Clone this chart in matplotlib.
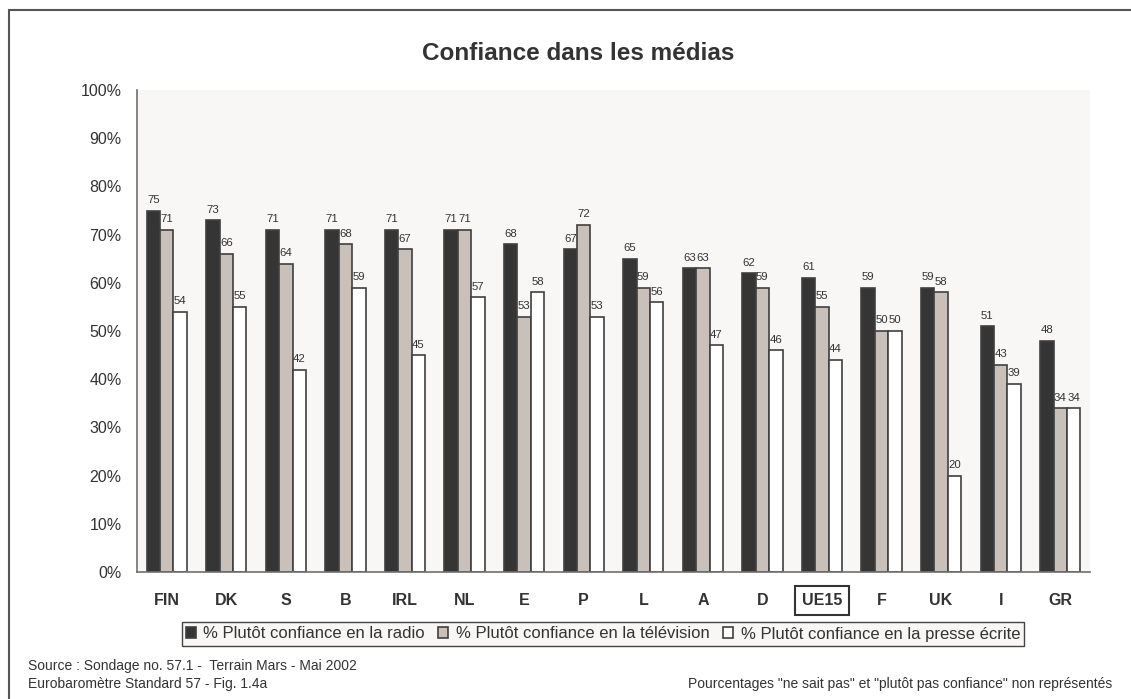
import matplotlib.pyplot as plt
import numpy as np
from matplotlib.patches import Rectangle

plt.rcParams['font.family'] = ['Liberation Sans', 'DejaVu Sans']

# donnees
pays = ['FIN', 'DK', 'S', 'B', 'IRL', 'NL', 'E', 'P', 'L', 'A', 'D', 'UE15', 'F', 'UK', 'I', 'GR']
radio = [75, 73, 71, 71, 71, 71, 68, 67, 65, 63, 62, 61, 59, 59, 51, 48]
television = [71, 66, 64, 68, 67, 71, 53, 72, 59, 63, 59, 55, 50, 58, 43, 34]
presse = [54, 55, 42, 59, 45, 57, 58, 53, 56, 47, 46, 44, 50, 20, 39, 34]
series = ['% Plutôt confiance en la radio', '% Plutôt confiance en la télévision',
          '% Plutôt confiance en la presse écrite']

W, H = 1131, 699
fig = plt.figure(figsize=(W / 100, H / 100), dpi=100)
ax = fig.add_axes([137 / W, 1 - 572 / H, (1090 - 137) / W, (572 - 90) / H])
ax.set_facecolor('#f8f7f5')

x = np.arange(len(pays))
larg = 0.225
couleurs = ['#353535', '#c8c0b9', '#ffffff']
texte = '#333333'

for k, (vals, c, nom) in enumerate(zip([radio, television, presse], couleurs, series)):
    pos = x + (k - 1) * larg
    barres = ax.bar(pos, vals, larg, color=c, edgecolor='#404040', linewidth=1.2, label=nom, zorder=2)
    for b, v in zip(barres, vals):
        ax.annotate(str(v), (b.get_x() + b.get_width() / 2, v), xytext=(0, 4),
                    textcoords='offset points', ha='center', va='bottom', fontsize=8.2, color=texte)

ax.set_xlim(-0.5, len(pays) - 0.5)
ax.set_ylim(0, 100)
ax.set_yticks(range(0, 101, 10))
ax.set_yticklabels([f'{v}%' for v in range(0, 101, 10)], fontsize=11.5, color=texte)
ax.set_xticks(x)
ax.set_xticklabels(pays, fontsize=11.5, fontweight='bold', color=texte)
ax.tick_params(axis='both', length=0)
ax.tick_params(axis='y', pad=11)
ax.tick_params(axis='x', pad=15)
for t in ax.get_xticklabels():
    if t.get_text() == 'UE15':
        t.set_bbox(dict(facecolor='none', edgecolor='#333333', linewidth=1.5, pad=5))

for s in ['top', 'right']:
    ax.spines[s].set_visible(False)
for s in ['left', 'bottom']:
    ax.spines[s].set_color('#707070')
    ax.spines[s].set_linewidth(1.2)

fig.text(578 / W, 1 - 53 / H, 'Confiance dans les médias', ha='center', va='center',
         fontsize=17.5, fontweight='bold', color=texte)

leg = fig.legend(loc='center', bbox_to_anchor=(603 / W, 1 - 634 / H), ncol=3, fontsize=12,
                 handlelength=0.6, handleheight=0.6, handletextpad=0.45, columnspacing=0.8,
                 borderpad=0.25, fancybox=False, edgecolor='#444444', framealpha=1)
leg.get_frame().set_facecolor('#f8f7f5')
leg.get_frame().set_linewidth(1.0)
for t in leg.get_texts():
    t.set_color(texte)

fig.text(28 / W, 1 - 666 / H, 'Source : Sondage no. 57.1 -  Terrain Mars - Mai 2002',
         ha='left', va='center', fontsize=10, color=texte)
fig.text(28 / W, 1 - 684 / H, 'Eurobaromètre Standard 57 - Fig. 1.4a',
         ha='left', va='center', fontsize=10, color=texte)
fig.text(1112 / W, 1 - 684 / H, 'Pourcentages "ne sait pas" et "plutôt pas confiance" non représentés',
         ha='right', va='center', fontsize=10, color=texte)

# cadre exterieur
fig.patches.append(Rectangle((9 / W, -0.1), 1.1, 1.1 - 10.5 / H, transform=fig.transFigure,
                             fill=False, edgecolor='#555555', linewidth=1.5))

fig.savefig('out.png', dpi=100)
